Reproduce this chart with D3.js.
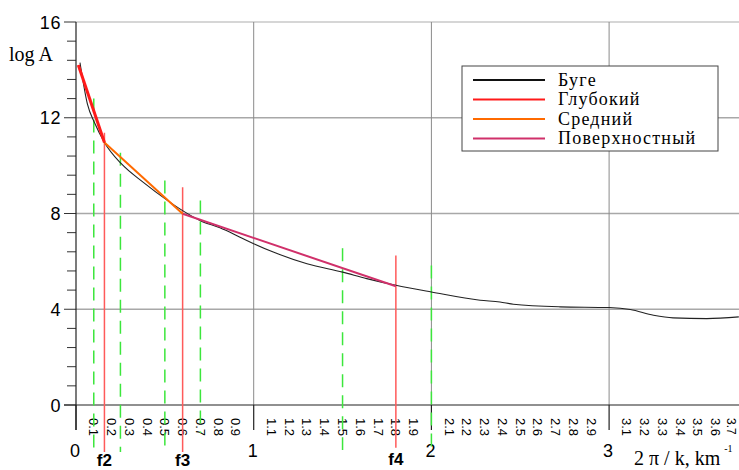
<!DOCTYPE html>
<html><head><meta charset="utf-8">
<script src="https://cdn.jsdelivr.net/npm/d3@7"></script>
<style>body{margin:0;background:#fff}svg{display:block}</style>
</head><body>
<script>
// ---- data ----
const bougerX = [0.0225,0.064,0.107,0.16,0.255,0.379,0.51,0.6,0.7,0.81,0.923,1.0,1.11,1.3,1.5,1.636,1.8,2.0,2.274,2.386,2.461,2.724,3.0,3.119,3.25,3.36,3.55,3.73];
const bougerY = [14.3,12.58,11.75,10.97,10.08,9.3,8.57,8.12,7.7,7.4,7.01,6.74,6.39,5.9,5.55,5.28,5.0,4.72,4.375,4.30,4.21,4.10,4.07,3.99,3.75,3.64,3.61,3.68];
const deepX = [0.013,0.16], deepY = [14.2,10.97];
const midX = [0.16,0.6], midY = [10.97,7.99];
const surfX = [0.6,1.8], surfY = [7.99,4.96];
const fNames = ["f2","f3","f4"];
const fX = [0.16,0.6,1.8];
const fTop = [11.37,9.1,6.25];
const fBottom = [-1.96,-1.96,-1.79];
const greenX = [0.1,0.25,0.5,0.7,1.5,2.0];
const greenTop = [12.8,10.54,9.375,8.54,6.55,5.83];
const greenBottom = [-1.875,-1.96,-2.0,-1.17,-1.875,-2.08];
const yMajor = [0,4,8,12,16];
const xMajor = [0,1,2,3];
const xMinorLabels = ["0.1","0.2","0.3","0.4","0.5","0.6","0.7","0.8","0.9",
 "1.1","1.2","1.3","1.4","1.5","1.6","1.7","1.8","1.9",
 "2.1","2.2","2.3","2.4","2.5","2.6","2.7","2.8","2.9",
 "3.1","3.2","3.3","3.4","3.5","3.6","3.7"];
const legendNames = ["Буге","Глубокий","Средний","Поверхностный"];
const legendColors = ["#111111","#ff1a1a","#ff6a00","#d0306a"];

// ---- chart ----
const W = 739, H = 470;
const svg = d3.select("body").append("svg").attr("width",W).attr("height",H);
const x = d3.scaleLinear().domain([0,3.7]).range([76,733.5]);
const y = d3.scaleLinear().domain([0,16]).range([405,22]);
const sans = "Liberation Sans, Arial, sans-serif";
const serif = "Liberation Serif, Times New Roman, serif";

// horizontal gridlines
svg.append("g").selectAll("line").data(yMajor.filter(d=>d>0)).join("line")
  .attr("x1",x(0)).attr("x2",W).attr("y1",d=>y(d)).attr("y2",d=>y(d))
  .attr("stroke",d=>d===16?"#c8c8c8":"#a8a8a8").attr("stroke-width",1.5);
// vertical gridlines
svg.append("g").selectAll("line").data(xMajor.filter(d=>d>0)).join("line")
  .attr("x1",d=>x(d)).attr("x2",d=>x(d)).attr("y1",y(16)).attr("y2",y(0))
  .attr("stroke","#8a8a8a").attr("stroke-width",1);

// y axis with minor ticks
const yMinor = d3.range(0,16.01,0.8);
svg.append("g").selectAll("line").data(yMinor).join("line")
  .attr("x1",d=>yMajor.includes(Math.round(d*100)/100)?64:67).attr("x2",x(0))
  .attr("y1",d=>y(d)).attr("y2",d=>y(d)).attr("stroke","#333").attr("stroke-width",1);
svg.append("line").attr("x1",x(0)).attr("x2",x(0)).attr("y1",y(16)).attr("y2",430)
  .attr("stroke","#222").attr("stroke-width",1.2);
svg.append("g").selectAll("text").data(yMajor).join("text")
  .attr("x",61).attr("y",d=>y(d)+6.5).attr("text-anchor","end")
  .attr("font-family",sans).attr("font-size",18).attr("letter-spacing",0.6).text(d=>d);
svg.append("text").attr("x",9).attr("y",61).attr("font-family",serif).attr("font-size",20).text("log A");

// x axis
svg.append("line").attr("x1",64).attr("x2",W).attr("y1",y(0)).attr("y2",y(0)).attr("stroke","#222").attr("stroke-width",1.2);
svg.append("g").selectAll("line").data(xMajor).join("line")
  .attr("x1",d=>x(d)).attr("x2",d=>x(d)).attr("y1",y(0)).attr("y2",430)
  .attr("stroke","#222").attr("stroke-width",1.2);
svg.append("g").selectAll("text").data(xMajor).join("text")
  .attr("x",d=>x(d)-1).attr("y",457).attr("text-anchor","middle")
  .attr("font-family",sans).attr("font-size",18).text(d=>d);
svg.append("g").selectAll("text").data(xMinorLabels).join("text")
  .attr("transform",d=>`translate(${Math.min(x(+d),731)},418) rotate(90)`)
  .attr("dy","0.35em").attr("font-family",sans).attr("font-size",d=>+d>3.65?12:13).text(d=>d);
const ttl = svg.append("text").attr("x",634).attr("y",465).attr("font-family",serif).attr("font-size",20);
ttl.append("tspan").text("2 π / k, km");
ttl.append("tspan").attr("dx",4).attr("dy",-13).attr("font-size",10).text("-1");

// green dashed lines
svg.append("g").selectAll("line").data(greenX).join("line")
  .attr("x1",d=>x(d)).attr("x2",d=>x(d))
  .attr("y1",(d,i)=>y(greenTop[i])).attr("y2",(d,i)=>y(greenBottom[i]))
  .attr("stroke","#3ce63c").attr("stroke-width",1.5).attr("stroke-dasharray","13,8");
// red f lines
svg.append("g").selectAll("line").data(fX).join("line")
  .attr("x1",d=>x(d)).attr("x2",d=>x(d))
  .attr("y1",(d,i)=>y(fTop[i])).attr("y2",(d,i)=>y(fBottom[i]))
  .attr("stroke","#ff5a5a").attr("stroke-width",1.5);
svg.append("g").selectAll("text").data(fNames).join("text")
  .attr("x",(d,i)=>x(fX[i])).attr("y",(d,i)=>i===2?465:466).attr("text-anchor","middle")
  .attr("font-family",sans).attr("font-weight","bold").attr("font-size",17).text(d=>d);

// curves
const line = d3.line().x(d=>x(d[0])).y(d=>y(d[1]));
svg.append("path").datum(d3.zip(bougerX,bougerY)).attr("fill","none")
  .attr("stroke","#222").attr("stroke-width",1.1).attr("d",line.curve(d3.curveMonotoneX));
const lineL = d3.line().x(d=>x(d[0])).y(d=>y(d[1]));
svg.append("path").datum(d3.zip(surfX,surfY)).attr("fill","none").attr("stroke",legendColors[3]).attr("stroke-width",2).attr("d",lineL);
svg.append("path").datum(d3.zip(midX,midY)).attr("fill","none").attr("stroke",legendColors[2]).attr("stroke-width",2).attr("d",lineL);
svg.append("path").datum(d3.zip(deepX,deepY)).attr("fill","none").attr("stroke",legendColors[1]).attr("stroke-width",3).attr("d",lineL);

// legend
const lg = svg.append("g");
lg.append("rect").attr("x",462).attr("y",66).attr("width",256).attr("height",85)
  .attr("fill","#fff").attr("stroke","#444").attr("stroke-width",1);
const li = lg.selectAll("g").data(legendNames).join("g")
  .attr("transform",(d,i)=>`translate(0,${80+i*19.5})`);
li.append("line").attr("x1",473).attr("x2",545).attr("stroke",(d,i)=>legendColors[i]).attr("stroke-width",2);
li.append("text").attr("x",558).attr("y",5.5).attr("font-family",serif).attr("font-size",18)
  .attr("letter-spacing",1.2).text(d=>d);
</script>
</body></html>
